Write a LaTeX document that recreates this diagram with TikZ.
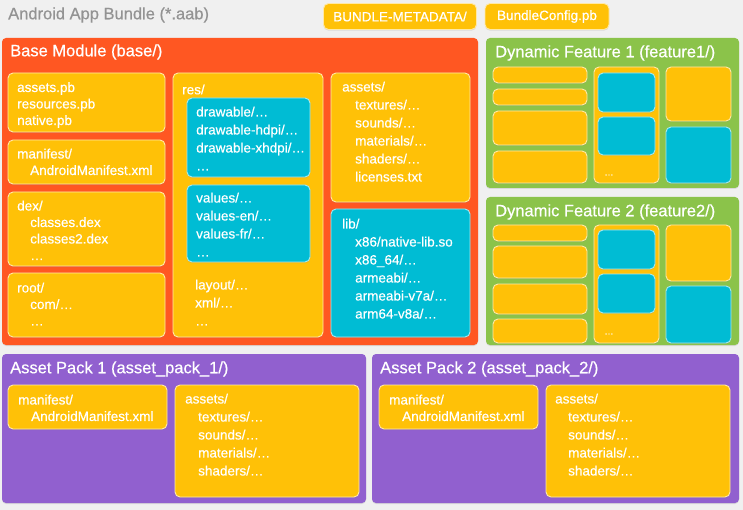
\documentclass[tikz,border=0pt]{standalone}
\usepackage{fontspec}
\setmainfont{Liberation Sans}
\newfontfamily\medfont{Liberation Sans}[FakeBold=0.5]
\usetikzlibrary{shadows}

\definecolor{bgGray}{HTML}{F0F0F0}
\definecolor{deepOrange}{HTML}{FF5722}
\definecolor{amber}{HTML}{FFC107}
\definecolor{cyanBox}{HTML}{00BCD4}
\definecolor{lightGreen}{HTML}{8BC34A}
\definecolor{packPurple}{HTML}{9160CF}
\definecolor{titleGray}{HTML}{939393}

\begin{document}
\begin{tikzpicture}[
    x=1pt, y=-1pt,
    panel/.style={rounded corners=4pt,
        drop shadow={shadow xshift=0pt, shadow yshift=-1pt, opacity=0.2}},
    amberbox/.style={fill=amber, draw=amber!35!white, line width=0.9pt, rounded corners=5pt,
        drop shadow={shadow xshift=0pt, shadow yshift=-1.2pt, opacity=0.2}},
    cyanbox/.style={amberbox, fill=cyanBox, draw=cyanBox!35!white},
    paneltitle/.style={anchor=west, inner sep=0pt, text=white, font=\medfont\fontsize{16.5}{19}\selectfont},
    lbl/.style={anchor=north west, inner sep=0pt, align=left, text=white,
        font=\medfont\fontsize{13.5}{16.5}\selectfont, execute at begin node=\strut},
    lbll/.style={lbl, font=\medfont\fontsize{13.5}{18}\selectfont},
    metabox/.style={amberbox, text=white, minimum height=26pt, inner sep=0pt,
        font=\medfont\fontsize{13.5}{16}\selectfont}
]

\def\ind{\hspace*{13pt}}

% background
\path[fill=bgGray, use as bounding box] (0,0) rectangle (743,510);

% header
\node[paneltitle, text=titleGray] (bundle) at (8,15) {Android App Bundle (*.aab)};
\node[metabox, minimum width=153pt] (meta) at (400,16.5) {BUNDLE-METADATA/};
\node[metabox, minimum width=124pt] (config) at (547,16.5) {BundleConfig.pb};

% panels
\fill[panel, deepOrange] (2,38) rectangle (478,345);
\fill[panel, lightGreen] (486,38) rectangle (739,188);
\fill[panel, lightGreen] (486,197) rectangle (739,345);
\fill[panel, packPurple] (2,354) rectangle (366,503);
\fill[panel, packPurple] (372,354) rectangle (739,503);

\node[paneltitle] (base) at (10,52) {Base Module (base/)};
\node[paneltitle] (feat1) at (495,53) {Dynamic Feature 1 (feature1/)};
\node[paneltitle] (feat2) at (495,212) {Dynamic Feature 2 (feature2/)};
\node[paneltitle] (pack1) at (10,369) {Asset Pack 1 (asset\_pack\_1/)};
\node[paneltitle] (pack2) at (380,369) {Asset Pack 2 (asset\_pack\_2/)};

% Base module, first column
\draw[amberbox] (8,73) rectangle (165,132);
\draw[amberbox] (8,140) rectangle (165,184);
\draw[amberbox] (8,192) rectangle (165,266);
\draw[amberbox] (8,273) rectangle (165,337);
\node[lbl] (pb) at (17,82) {assets.pb\\resources.pb\\native.pb};
\node[lbl] (manifest) at (17,148.5) {manifest/\\\ind AndroidManifest.xml};
\node[lbl] (dex) at (17,200.5) {dex/\\\ind classes.dex\\\ind classes2.dex\\\ind \dots};
\node[lbl] (root) at (17,282.5) {root/\\\ind com/\dots\\\ind \dots};

% Base module, res/
\draw[amberbox] (173,73) rectangle (323,337);
\draw[cyanbox] (187,98) rectangle (310,177);
\draw[cyanbox] (187,185) rectangle (310,262);
\node[lbll] (res) at (182,81.5) {res/};
\node[lbll] (drawable) at (196,106.5) {drawable/\dots\\drawable-hdpi/\dots\\drawable-xhdpi/\dots\\\dots};
\node[lbll] (values) at (196,192.5) {values/\dots\\values-en/\dots\\values-fr/\dots\\\dots};
\node[lbll] (layout) at (195,279.5) {layout/\dots\\xml/\dots\\\dots};

% Base module, assets/ and lib/
\draw[amberbox] (331,73) rectangle (470,202);
\draw[cyanbox] (331,209) rectangle (470,337);
\node[lbll] (assets) at (342,81.5) {assets/\\\ind textures/\dots\\\ind sounds/\dots\\\ind materials/\dots\\\ind shaders/\dots\\\ind licenses.txt};
\node[lbll] (lib) at (342,218.5) {lib/\\\ind x86/native-lib.so\\\ind x86\_64/\dots\\\ind armeabi/\dots\\\ind armeabi-v7a/\dots\\\ind arm64-v8a/\dots};

% Dynamic feature 1
\draw[amberbox] (493,67) rectangle (587,83);
\draw[amberbox] (493,89) rectangle (587,105);
\draw[amberbox] (493,111) rectangle (587,145);
\draw[amberbox] (493,151) rectangle (587,183);
\draw[amberbox] (594,67) rectangle (659,183);
\draw[cyanbox] (598,73) rectangle (655,112);
\draw[cyanbox] (598,117) rectangle (655,155);
\draw[amberbox] (666,67) rectangle (731,121);
\draw[cyanbox] (666,127) rectangle (731,183);
\node[text=white, inner sep=0pt, font=\medfont\fontsize{9}{10}\selectfont] (dots1) at (609,175) {\dots};

% Dynamic feature 2
\draw[amberbox] (493,225) rectangle (587,241);
\draw[amberbox] (493,246) rectangle (587,278);
\draw[amberbox] (493,284) rectangle (587,314);
\draw[amberbox] (493,319) rectangle (587,343);
\draw[amberbox] (594,225) rectangle (659,343);
\draw[cyanbox] (598,230) rectangle (655,269);
\draw[cyanbox] (598,274) rectangle (655,313);
\draw[amberbox] (666,225) rectangle (731,281);
\draw[cyanbox] (666,286) rectangle (731,343);
\node[text=white, inner sep=0pt, font=\medfont\fontsize{9}{10}\selectfont] (dots2) at (609,334) {\dots};

% Asset pack 1
\draw[amberbox] (8,385) rectangle (167,429);
\draw[amberbox] (175,385) rectangle (359,497);
\node[lbl] (manifestA) at (18,394.5) {manifest/\\\ind AndroidManifest.xml};
\node[lbll] (assetsA) at (185,393.5) {assets/\\\ind textures/\dots\\\ind sounds/\dots\\\ind materials/\dots\\\ind shaders/\dots};

% Asset pack 2
\draw[amberbox] (379,385) rectangle (538,429);
\draw[amberbox] (546,385) rectangle (730,497);
\node[lbl] (manifestB) at (389,394.5) {manifest/\\\ind AndroidManifest.xml};
\node[lbll] (assetsB) at (555,393.5) {assets/\\\ind textures/\dots\\\ind sounds/\dots\\\ind materials/\dots\\\ind shaders/\dots};

\end{tikzpicture}
\end{document}
